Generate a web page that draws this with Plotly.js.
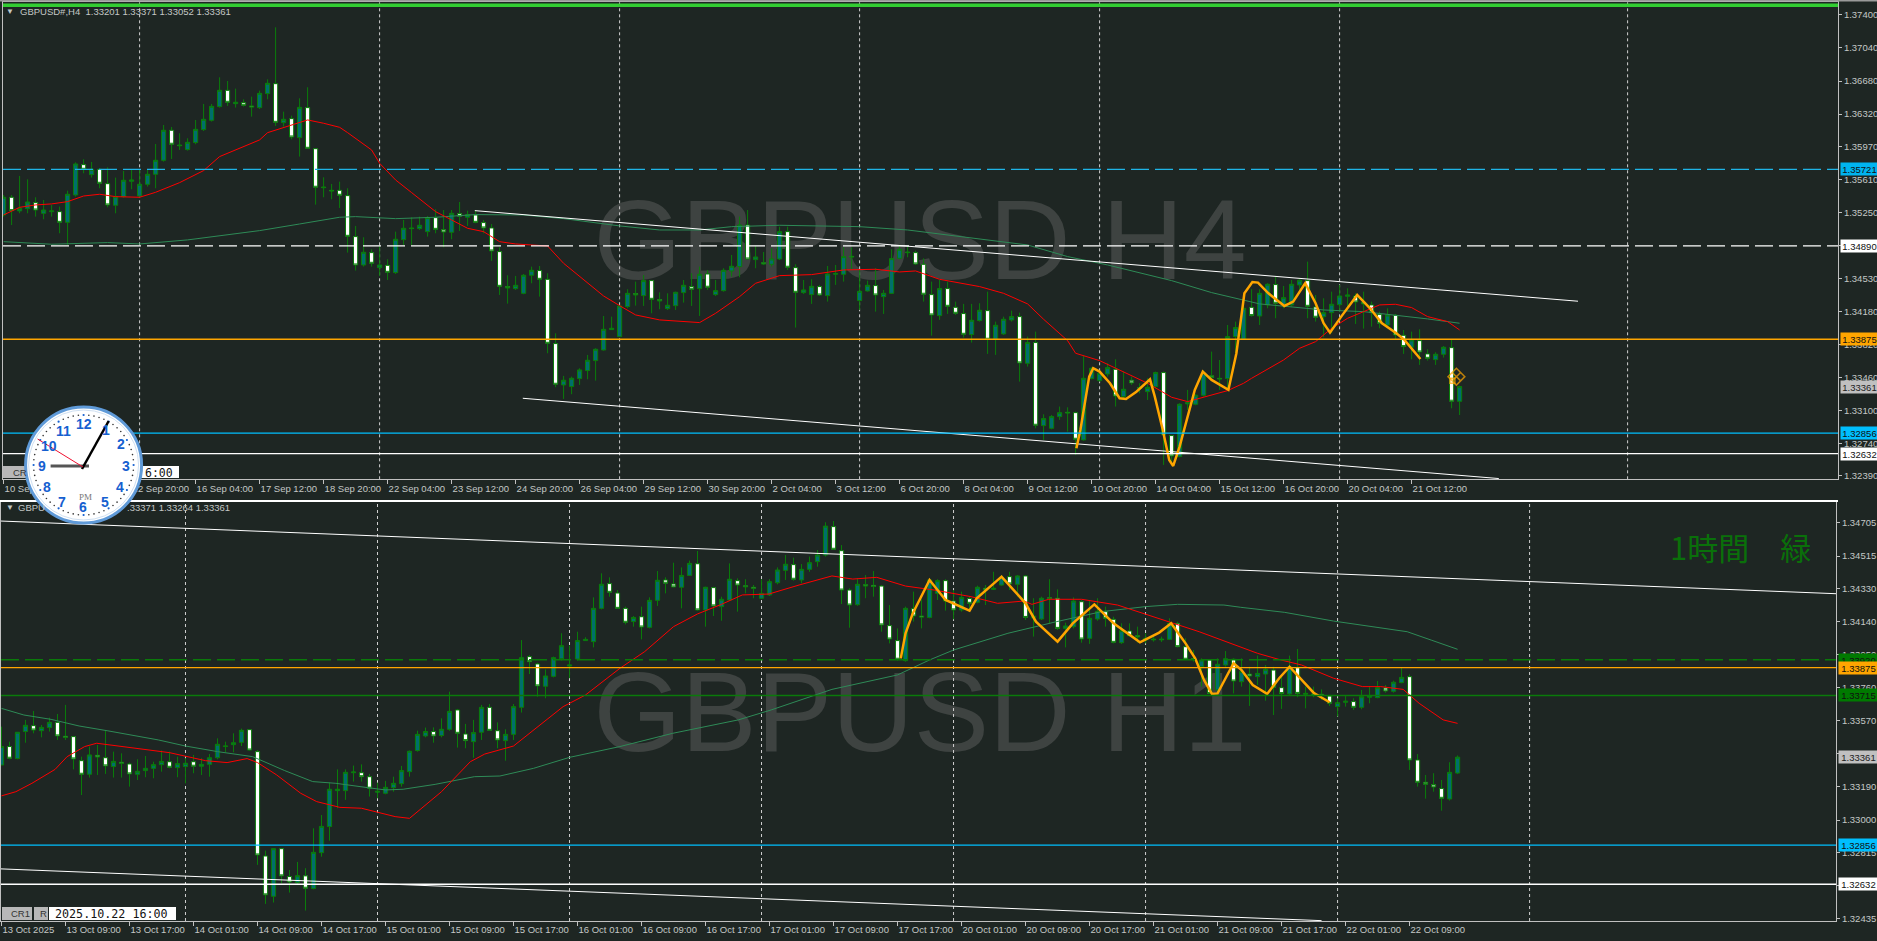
<!DOCTYPE html>
<html><head><meta charset="utf-8">
<script src="https://cdn.plot.ly/plotly-3.0.1.min.js"></script>
<style>html,body{margin:0;padding:0;background:#1e2623;overflow:hidden}</style>
</head><body><div id="chart" style="width:1877px;height:941px"></div>
<script>
// ---------- H4 panel prices, in points (1e-5) ----------
const h4Open=[135225,135417,135269,135294,135359,135243,135261,135261,135145,135442,
135772,135663,135721,135565,135330,135424,135591,135431,135558,135667,
135819,136145,135985,135935,136011,136152,136253,136402,136579,136434,
136445,136409,136391,136543,136651,136228,136271,136065,136391,135945,
135529,135493,135493,135435,134990,134682,134816,134653,134678,134599,
134957,135084,135077,135044,135196,135066,135037,135240,135200,135225,
135142,135084,134827,134447,134425,134374,134570,134621,134526,133828,
133379,133361,133448,133535,133643,133759,133980,133904,134230,134371,
134349,134512,134306,134208,134240,134382,134447,134425,134584,134360,
134403,134617,134664,135116,134740,134707,134689,134747,135044,134653,
134382,134360,134447,134349,134581,134581,134776,134295,134400,134458,
134338,134374,134754,134823,134816,134689,134360,134132,134425,134222,
134154,133926,134078,134186,133875,133933,134085,134121,133614,133839,
132937,132908,133035,133082,133078,132782,133448,133426,133498,133549,
133252,133430,133350,133306,133361,133513,132829,132601,133173,133169,
133267,133480,133451,133448,133904,133875,134222,134128,134248,134469,
134248,134248,134465,134512,134226,134121,134164,134251,134342,134345,
134277,134248,134146,134030,134135,133918,133788,133860,133716,133654,
133712,133784,133201];
const h4High=[135442,135442,135649,135612,135417,135388,135334,135316,135489,135797,
135830,135801,135732,135743,135631,135703,135714,135714,135721,135996,
136202,136181,136112,136058,136257,136431,136431,136720,136680,136597,
136481,136510,136575,136698,137263,136347,136304,136492,136612,135949,
135634,135562,135587,135515,135106,134983,134852,134888,134744,135044,
135171,135200,135207,135214,135287,135279,135279,135366,135272,135272,
135171,135127,134874,134570,134563,134584,134664,134671,134592,133940,
133477,133469,133560,133705,133777,134128,134121,134248,134418,134501,
134573,134519,134385,134374,134392,134519,134592,134664,134628,134519,
134646,134791,135207,135279,134888,134823,134863,135098,135098,134689,
134519,134526,134465,134671,134682,134874,134874,134635,134512,134646,
134411,134852,134899,134881,134838,134754,134501,134519,134501,134284,
134259,134259,134266,134392,134067,134121,134186,134164,133904,133958,
133060,133053,133144,133136,133089,133694,133571,133542,133614,133658,
133524,133469,133397,133451,133524,133524,132836,133180,133325,133278,
133535,133741,133650,134030,134067,134284,134418,134418,134483,134555,
134454,134519,134526,134718,134356,134320,134392,134465,134429,134374,
134392,134284,134175,134211,134150,133976,133958,133983,133766,133734,
133802,133868,133371];
const h4Low=[135207,135116,135243,135243,135207,135178,135207,135026,134899,135424,
135678,135631,135515,135308,135243,135413,135504,135417,135533,135515,
135804,135833,135931,135924,135993,136137,136239,136391,136409,136391,
136402,136293,136376,136481,136192,136184,136047,135859,135949,135337,
135417,135395,135301,134816,134621,134664,134664,134563,134519,134584,
134899,134899,135062,134990,135026,134874,134961,135051,135106,135135,
135026,134726,134356,134262,134411,134364,134483,134338,133723,133354,
133227,133278,133379,133440,133426,133752,133980,133904,134211,134240,
134237,134157,134201,134193,134193,134273,134237,134128,134411,134345,
134392,134555,134548,134744,134646,134682,134664,134736,134628,134002,
134367,134259,134345,134284,134465,134501,134628,134193,134392,134175,
134150,134367,134744,134765,134682,134284,133915,134085,134150,134139,
133893,133839,134067,133716,133705,133922,134067,133415,133578,132908,
132782,132897,132999,132872,132619,132774,133440,133415,133469,133144,
133234,133379,133288,133216,133343,132510,132510,132593,133107,133158,
133252,133448,133325,133325,133723,133868,134121,134030,134211,134103,
134211,134230,134411,134103,134067,133897,133940,134175,134230,134041,
133991,134012,133994,134020,133875,133716,133658,133596,133643,133596,
133676,133125,133052];
const h4Close=[135417,135272,135297,135366,135279,135279,135269,135145,135450,135779,
135721,135721,135569,135334,135424,135602,135605,135558,135667,135819,
136145,135993,135978,136014,136155,136264,136405,136579,136449,136449,
136416,136398,136546,136655,136231,136264,136072,136394,135949,135526,
135522,135486,135439,134993,134682,134820,134700,134682,134602,134961,
135080,135077,135113,135196,135069,135040,135243,135211,135229,135145,
135084,134834,134450,134432,134461,134570,134624,134526,133831,133386,
133430,133451,133542,133647,133766,133983,133994,134237,134374,134356,
134512,134309,134291,134244,134385,134461,134418,134581,134440,134403,
134624,134668,135116,134747,134769,134693,134747,135044,134657,134385,
134411,134450,134356,134584,134588,134773,134769,134396,134461,134356,
134374,134751,134852,134816,134693,134364,134139,134425,134233,134157,
133929,134081,134190,133875,134027,134092,134121,133618,133839,132941,
133013,133035,133078,133075,132789,133451,133560,133506,133567,133259,
133332,133401,133343,133353,133513,132836,132608,133169,133187,133267,
133506,133459,133444,133904,134002,134211,134132,134374,134472,134266,
134327,134472,134516,134233,134114,134164,134255,134345,134356,134280,
134259,134164,134049,134139,133922,133795,133868,133737,133668,133712,
133788,133202,133361];
// ---------- H1 panel prices ----------
const h1Open=[133316,133422,133353,133508,133542,133513,133531,133561,133481,133479,
133341,133263,133372,133358,133307,133332,133322,133263,133284,133297,
133318,133335,133301,133307,133335,133309,133320,133358,133422,133433,
133446,133519,133393,132794,132563,132836,132676,132641,132680,132607,
132813,132963,133169,133169,133272,133272,133249,133160,133154,133186,
133209,133278,133399,133483,133508,133485,133521,133632,133494,133450,
133504,133647,133513,133456,133492,133647,133938,133896,133768,133825,
133926,133884,133924,134030,134024,134215,134357,134303,134215,134139,
134167,134106,134261,134378,134355,134336,134404,134471,134206,134334,
134225,134263,134374,134345,134336,134273,134292,134362,134433,134466,
134378,134439,134483,134521,134684,134546,134320,134236,134351,134347,
134343,134116,134030,133915,134213,134171,134163,134301,134374,134257,
134206,134271,134250,134330,134324,134349,134397,134353,134401,134160,
134154,134276,134273,134100,134110,134253,134043,134154,134196,134152,
134018,134085,134058,134033,134039,134039,134037,134129,133995,133928,
133880,133919,133747,133890,133923,133794,133838,133823,133838,133861,
133760,133724,133875,133722,133724,133722,133712,133651,133676,133680,
133647,133705,133703,133758,133739,133789,133823,133345,133217,133204,
133181,133121,133270];
const h1High=[133536,133450,133504,133575,133626,133546,133588,133609,133661,133483,
133364,133422,133431,133513,133393,133383,133330,133349,133368,133335,
133399,133393,133364,133355,133374,133355,133379,133469,133450,133498,
133525,133521,133402,132825,132838,132838,132714,132760,132724,132953,
133029,133215,133291,133291,133313,133320,133265,133215,133225,133249,
133311,133399,133513,133531,133532,133584,133737,133638,133552,133575,
133661,133666,133561,133521,133666,134033,133947,133903,133865,133938,
134072,134001,134081,134049,134278,134416,134393,134320,134225,134171,
134225,134278,134429,134393,134477,134450,134489,134544,134339,134339,
134282,134473,134387,134382,134349,134382,134382,134450,134521,134506,
134469,134512,134550,134709,134716,134578,134330,134387,134406,134429,
134349,134234,134100,134225,134311,134267,134387,134382,134382,134320,
134311,134282,134345,134349,134425,134406,134425,134406,134406,134273,
134282,134382,134324,134133,134278,134263,134263,134273,134225,134167,
134129,134129,134110,134072,134062,134053,134158,134139,134043,133976,
133928,133923,133928,133970,133928,133928,133880,133944,133890,133880,
133823,133944,133982,133766,133766,133750,133718,133699,133718,133699,
133747,133766,133798,133775,133800,133875,133836,133379,133259,133269,
133230,133332,133371];
const h1Low=[133316,133349,133349,133444,133498,133475,133508,133460,133460,133291,
133144,133244,133259,133265,133244,133244,133192,133230,133246,133240,
133278,133297,133246,133211,133269,133259,133249,133349,133389,133389,
133425,133399,132743,132519,132527,132637,132584,132628,132481,132603,
132790,132882,133068,133116,133221,133221,133135,133125,133148,133163,
133192,133249,133393,133475,133444,133475,133513,133416,133412,133358,
133460,133513,133412,133341,133460,133617,133838,133708,133699,133819,
133915,133814,133915,134028,133991,134209,134282,134211,134123,134110,
134037,134100,134229,134301,134336,134215,134401,134202,134110,134171,
134144,134259,134196,134301,134273,134269,134286,134353,134378,134374,
134359,134425,134454,134512,134550,134240,134104,134230,134273,134282,
134081,134014,133915,133909,134139,134100,134158,134263,134202,134152,
134196,134202,134244,134234,134320,134345,134320,134282,134148,134053,
134148,134129,134091,133991,134100,134018,134011,134144,134110,134014,
134011,134053,134018,134014,134024,134022,134033,133991,133919,133909,
133766,133724,133724,133880,133727,133766,133655,133775,133685,133603,
133638,133718,133705,133641,133705,133689,133655,133594,133651,133632,
133636,133670,133699,133731,133731,133785,133288,133192,133123,133163,
133054,133112,133264];
const h1Close=[133422,133355,133504,133544,133517,133532,133561,133483,133475,133351,
133263,133374,133362,133311,133337,133326,133265,133280,133297,133318,
133337,133303,133324,133326,133309,133320,133358,133435,133425,133444,
133515,133402,132800,132571,132836,132680,132645,132681,132609,132815,
132964,133177,133177,133274,133276,133249,133183,133165,133188,133211,
133284,133395,133492,133508,133483,133521,133624,133498,133456,133502,
133647,133515,133460,133492,133651,133932,133909,133770,133827,133932,
134001,133890,134030,134037,134215,134353,134307,134215,134135,134163,
134108,134261,134376,134359,134338,134404,134473,134206,134336,134229,
134267,134382,134349,134339,134330,134301,134368,134435,134468,134382,
134439,134477,134521,134687,134554,134320,134234,134353,134343,134341,
134120,134039,133923,134215,134171,134165,134378,134374,134257,134206,
134278,134244,134336,134320,134330,134393,134355,134401,134163,134171,
134273,134271,134100,134114,134257,134039,134158,134198,134158,134020,
134087,134058,134051,134043,134035,134035,134129,133995,133923,133923,
133919,133727,133894,133926,133798,133852,133827,133842,133865,133762,
133726,133880,133727,133727,133718,133716,133670,133674,133682,133647,
133708,133714,133760,133741,133791,133819,133345,133217,133205,133190,
133125,133274,133361];
// ---------- indicator lines: bar index / price points ----------
const h4RedX=[0,2,4,6,8,10,12,14,17,19,22,25,27,29,32,33,36,38,40,42,43,46,47,49,51,54,56,58,60,62,64,68,70,73,75,77,79,82,87,89,92,94,97,101,105,109,112,114,117,122,125,128,130,133,134,137,140,143,146,148,153,155,156,158,160,162,164,166,168,170,172,174,176,178,180.5,182];
const h4RedY=[135225,135308,135334,135345,135370,135431,135450,135424,135417,135471,135576,135707,135859,135931,136040,136119,136202,136257,136221,136177,136119,135931,135786,135605,135468,135261,135171,135080,135044,134935,134910,134888,134700,134483,134345,134240,134139,134085,134056,134157,134338,134483,134566,134577,134628,134635,134606,134617,134526,134447,134374,134259,134092,133860,133723,133643,133524,133397,133245,133198,133317,133397,133451,133549,133650,133777,133849,133994,134103,134175,134248,134255,134219,134121,134067,133976];
const h4GreenX=[0,6,13,17,23,27,32,37,42,44,49,54,59,65,70,77,82,87,91,97,107,113,118,128,133,138,146,151,157,160.6,165,170,174,178,182];
const h4GreenY=[134935,134907,134925,134910,134954,134997,135055,135127,135200,135207,135185,135200,135229,135225,135185,135106,135062,135062,135098,135113,135098,135062,135008,134899,134773,134682,134512,134382,134259,134230,134193,134175,134139,134096,134049];
const h4ZigX=[134.1,134.6,135.7,136.2,137,138.3,139.5,140.3,141.6,143.3,143.9,144.9,145.7,146.2,147,147.7,148.9,149.9,151,153.1,154.1,155.1,156.1,156.8,158.1,160.1,161.2,162.7,164,165,165.8,167.2,169.2,170.8,172.3,174.1,175.1,177.1];
const h4ZigY=[132691,132890,133469,133560,133524,133397,133234,133227,133306,133440,133252,132890,132564,132499,132709,132926,133325,133524,133433,133325,133723,134374,134497,134490,134374,134237,134284,134483,134266,134049,133947,134121,134356,134211,134049,133940,133868,133661];
const h1RedX=[0,1.8,3.8,6.7,8.2,10.4,11.9,15.6,21,25.5,28.2,30.7,32,34.4,37.4,39.4,42.3,45,49.2,51,53,55,58.6,60.4,64,67,70.2,73,77.3,80.4,84,87,90,92.6,95.9,99.7,103.8,106.4,109.4,113,116.6,121.2,124.5,127.8,128.8,130.9,135,139.5,143,146.2,149.7,157,159.9,162.5,166.5,170.1,172.4,175.2,177.2,180.2,182];
const h1RedY=[133139,133163,133211,133291,133364,133422,133441,133420,133387,133341,133330,133353,133330,133259,133154,133106,133073,133068,133020,133010,133087,133163,133335,133379,133425,133536,133651,133718,133871,133967,134110,134183,134238,134292,134297,134349,134401,134383,134393,134343,134320,134282,134244,134257,134238,134267,134267,134234,134183,134133,134081,133957,133919,133890,133814,133766,133766,133750,133670,133575,133555];
const h1GreenX=[0,2.8,6.2,9.7,13.2,19.6,23,27,31.4,35.4,38.9,41.8,45.8,48,50.2,54.2,59.1,62.3,66.5,71,77.3,83.9,92.1,96.2,103.8,112,116,119,125.8,131.9,137.5,143,147,152.8,154.9,160.4,166.5,171.6,175.7,178.7,182];
const h1GreenY=[133641,133603,133578,133540,133513,133460,133425,133393,133364,133284,133221,133211,133186,133173,133177,133205,133249,133253,133297,133360,133422,133498,133575,133632,133750,133833,133919,133976,134072,134139,134196,134225,134238,134234,134221,134192,134142,134110,134081,134033,133980];
const h1ZigX=[112.4,113,113.9,116,118,121,121.9,125,128,129.3,132,133.9,136.6,139,142.3,143.6,144.7,146.2,148,149.2,150.3,151.3,152,153,154,155,156.4,158.2,159.7,161,162.5,164,166];
const h1ZigY=[133928,134072,134186,134378,134263,134202,134273,134397,134244,134139,134024,134129,134238,134129,134020,134053,134076,134129,134014,133928,133804,133724,133727,133814,133900,133861,133775,133724,133814,133880,133804,133731,133676];
// ---------- trend lines ----------
const h4TrendUpX=[58.9,196.8], h4TrendUpY=[135272,134288];
const h4TrendLowX=[64.9,186.9], h4TrendLowY=[133234,132362];
const h1TrendUpX=[-0.06,229.3], h1TrendUpY=[134716,134299];
const h1TrendLowX=[-0.06,165], h1TrendLowY=[132720,132423];
// ---------- axes ----------
const h4Ticks=["1.37400","1.37040","1.36680","1.36320","1.35970","1.35610","1.35250","1.34890","1.34530","1.34180","1.33820","1.33460","1.33100","1.32740","1.32390"];
const h1Ticks=["1.34705","1.34515","1.34330","1.34140","1.33950","1.33760","1.33570","1.33380","1.33190","1.33000","1.32815","1.32625","1.32435"];
const h4Dates=["10 Sep 2025","11 Sep 12:00","12 Sep 20:00","16 Sep 04:00","17 Sep 12:00","18 Sep 20:00","22 Sep 04:00","23 Sep 12:00","24 Sep 20:00","26 Sep 04:00","29 Sep 12:00","30 Sep 20:00","2 Oct 04:00","3 Oct 12:00","6 Oct 20:00","8 Oct 04:00","9 Oct 12:00","10 Oct 20:00","14 Oct 04:00","15 Oct 12:00","16 Oct 20:00","20 Oct 04:00","21 Oct 12:00"];
const h1Dates=["13 Oct 2025","13 Oct 09:00","13 Oct 17:00","14 Oct 01:00","14 Oct 09:00","14 Oct 17:00","15 Oct 01:00","15 Oct 09:00","15 Oct 17:00","16 Oct 01:00","16 Oct 09:00","16 Oct 17:00","17 Oct 01:00","17 Oct 09:00","17 Oct 17:00","20 Oct 01:00","20 Oct 09:00","20 Oct 17:00","21 Oct 01:00","21 Oct 09:00","21 Oct 17:00","22 Oct 01:00","22 Oct 09:00"];
const h4Separators=[17,47,77,107,137,167,203];
const h1Separators=[23,47,71,95,119,143,167,191];
// level price, colour, dash, tag background
const h4Levels=[[1.35721,"#1fb4e6","dash","#00b4f0"],[1.34890,"#ffffff","dash","#ffffff"],[1.33875,"#ffa500","solid","#ffa500"],[1.32856,"#00bfff","solid","#00bfff"],[1.32632,"#ffffff","solid","#ffffff"]];
const h1Levels=[[1.33920,"#0a7a0a","dash","#007a00"],[1.33875,"#ffa500","solid","#ffa500"],[1.33715,"#0a7a0a","solid","#007a00"],[1.32856,"#00bfff","solid","#00bfff"],[1.32632,"#ffffff","solid","#ffffff"]];
const lastPrice=1.33361;

const W=1877,H=941,BG="#1e2623",TXT="#c4c8c6",FONT="Liberation Sans",FS=9.5;
const X=x=>x/W, Y=y=>1-y/H, p=a=>a.map(v=>v/1e5);
const idx=a=>a.map((_,i)=>i);
const candle=(o,h,l,c,xa,ya)=>({type:"candlestick",x:idx(o),open:p(o),high:p(h),low:p(l),close:p(c),xaxis:xa,yaxis:ya,
  increasing:{line:{color:"#0a7d0a",width:1},fillcolor:"#006f6c"},decreasing:{line:{color:"#0a7d0a",width:1},fillcolor:"#ffffff"},whiskerwidth:0,hoverinfo:"skip",showlegend:false});
const line=(x,y,color,width,xa,ya)=>({type:"scatter",mode:"lines",x:x,y:p(y),line:{color:color,width:width},xaxis:xa,yaxis:ya,hoverinfo:"skip",showlegend:false});
const data=[
 candle(h4Open,h4High,h4Low,h4Close,"x","y"),
 line(h4GreenX,h4GreenY,"#2e8b57",1,"x","y"),
 line(h4RedX,h4RedY,"#ff0000",1,"x","y"),
 line(h4TrendUpX,h4TrendUpY,"#ffffff",1,"x","y"),
 line(h4TrendLowX,h4TrendLowY,"#ffffff",1,"x","y"),
 line(h4ZigX,h4ZigY,"#ffa500",2.5,"x","y"),
 {type:"scatter",mode:"markers",x:[181.6,181.1],y:[1.33469,1.33425],xaxis:"x",yaxis:"y",hoverinfo:"skip",showlegend:false,
  marker:{symbol:["diamond-x-open","square-open"],size:[13,5],color:"#ffa500",line:{color:"#ffa500",width:1.5}}},
 candle(h1Open,h1High,h1Low,h1Close,"x2","y2"),
 line(h1GreenX,h1GreenY,"#2e8b57",1,"x2","y2"),
 line(h1RedX,h1RedY,"#ff0000",1,"x2","y2"),
 line(h1TrendUpX,h1TrendUpY,"#ffffff",1,"x2","y2"),
 line(h1TrendLowX,h1TrendLowY,"#ffffff",1,"x2","y2"),
 line(h1ZigX,h1ZigY,"#ffa500",2.5,"x2","y2")
];
const shapes=[],ann=[];
// watermarks behind the candles
[["GBPUSD H4",187,271],["GBPUSD H1",660,742]].forEach(w=>shapes.push({type:"rect",layer:"below",xref:"paper",yref:"paper",x0:X(595),x1:X(1245),y0:Y(w[2]),y1:Y(w[1]),line:{width:0},fillcolor:"rgba(0,0,0,0)",
  label:{text:w[0],textposition:"middle center",font:{family:FONT,size:113,color:"#3e4341"}}}));
// separators
h4Separators.forEach(s=>shapes.push({type:"line",layer:"below",xref:"x",yref:"y domain",x0:s,x1:s,y0:0,y1:1,line:{color:"#d0d0d0",width:1,dash:"3px,3px"}}));
h1Separators.forEach(s=>shapes.push({type:"line",layer:"below",xref:"x2",yref:"y2 domain",x0:s,x1:s,y0:0,y1:1,line:{color:"#d0d0d0",width:1,dash:"3px,3px"}}));
// levels with price tags
const tag=(price,bg,fg,yr,x)=>ann.push({xref:"paper",yref:yr,x:X(x),y:price,xanchor:"left",yanchor:"middle",text:price.toFixed(5),showarrow:false,bgcolor:bg,width:1877-x,height:12,borderpad:0,align:"center",font:{family:FONT,size:FS,color:fg}});
h4Levels.forEach(l=>{shapes.push({type:"line",xref:"x domain",yref:"y",x0:0,x1:1,y0:l[0],y1:l[0],line:{color:l[1],width:1.3,dash:l[2]==="dash"?"18px,6px":"solid"}});
  tag(l[0],l[3],"#101010","y",1840);});
tag(lastPrice,"#c0c0c0","#202020","y",1840);
h1Levels.forEach(l=>{shapes.push({type:"line",xref:"x2 domain",yref:"y2",x0:0,x1:1,y0:l[0],y1:l[0],line:{color:l[1],width:1.3,dash:l[2]==="dash"?"18px,6px":"solid"}});
  tag(l[0],l[3],"#101010","y2",1838);});
tag(lastPrice,"#c0c0c0","#202020","y2",1838);
// frame parts
const box=(x0,y0,x1,y1,fill,lc)=>shapes.push({type:"rect",xref:"paper",yref:"paper",x0:X(x0),x1:X(x1),y0:Y(y1),y1:Y(y0),fillcolor:fill,line:{color:lc||fill,width:lc?1:0}});
box(0,0,1877,1.5,"#9a9a9a");
box(3,3.5,1838,7,"#32cd32");
box(0,500,1838,502,"#ffffff");
// upper date box, behind the clock
box(3,466,40,478,"#b8b8b8");box(40,466,179,478,"#ffffff");
// lower date box
box(2,907,32,920,"#b8b8b8");box(34,907,48,920,"#b8b8b8");box(49,907,176,920,"#ffffff");
const label=(x,y,t,size,color,anchor,family,weight)=>ann.push({xref:"paper",yref:"paper",x:X(x),y:Y(y),xanchor:anchor||"left",yanchor:"middle",text:t,showarrow:false,font:{family:family||FONT,size:size,color:color,weight:weight||400}});
label(18,11.5,"GBPUSD#,H4\u00a0\u00a01.33201 1.33371 1.33052 1.33361",FS,TXT);
label(4,11.5,"▼",8,TXT);
label(4,507.5,"▼",8,TXT);
label(16,507.5,"GBPU",FS,TXT);
label(124.5,507.5,".33371 1.33264 1.33361",FS,TXT);
label(1668,546,"1時間　緑",31,"#0a700a","left","Noto Sans CJK JP");
label(11,472.5,"CR",FS,"#333");
label(143,472.5,"6:00",11.5,"#111","left","DejaVu Sans Mono");
label(9,913.5,"CR1",FS,"#333");
label(38,913.5,"R",FS,"#333");
label(53,913.5,"2025.10.22 16:00",11.7,"#111","left","DejaVu Sans Mono");
// desk clock widget
const cx=83.6,cy=465,R=58;
const circ=(r,fill,lc,lw)=>shapes.push({type:"circle",xref:"paper",yref:"paper",x0:X(cx-r),x1:X(cx+r),y0:Y(cy+r),y1:Y(cy-r),fillcolor:fill,line:{color:lc,width:lw}});
circ(58,"#ffffff","#5f9ad8",3);
circ(55,"#ffffff","#cfe0f2",1);
for(let m=0;m<60;m++){const a=m*Math.PI/30,r=50,s=m%5?0.8:1.1,px=cx+r*Math.sin(a),py=cy-r*Math.cos(a);
  shapes.push({type:"circle",xref:"paper",yref:"paper",x0:X(px-s),x1:X(px+s),y0:Y(py+s),y1:Y(py-s),fillcolor:m%5?"#333":"#1560d0",line:{width:0}});}
const hand=(x0,y0,x1,y1,c,w)=>shapes.push({type:"line",xref:"paper",yref:"paper",x0:X(x0),x1:X(x1),y0:Y(y0),y1:Y(y1),line:{color:c,width:w}});
[[84,424,"12"],[106,430,"1"],[120.6,444,"2"],[126.5,466,"3"],[120,487,"4"],[105,502,"5"],[83,507,"6"],[62.5,502,"7"],[46.7,487,"8"],[41.5,466,"9"],[48.6,446,"10"],[63,431,"11"]].forEach(d=>label(d[0],d[1],d[2],14,"#1560d0","center",FONT,700));
label(85,497,"PM",9,"#777","center","Liberation Serif");
hand(50.6,466,89,466,"#555",3);
hand(82,469,108.7,421,"#000",2.5);
hand(37.6,439,83,467,"#f01030",1);
const xa=(dom,dates,range,anchor)=>({domain:dom,range:range,anchor:anchor,type:"linear",tickmode:"array",tickvals:dates.map((_,i)=>i*8),ticktext:dates,tickangle:0,ticks:"outside",ticklen:4,tickcolor:"#c0c0c0",ticklabelposition:"outside right",tickfont:{family:FONT,size:FS,color:TXT},showgrid:false,zeroline:false,showline:true,linecolor:"#c0c0c0",mirror:true,rangeslider:{visible:false},fixedrange:true});
const ya=(dom,ticks,range,anchor)=>({domain:dom,range:range,anchor:anchor,side:"right",tickmode:"array",tickvals:ticks.map(Number),ticktext:ticks,ticks:"outside",ticklen:3,tickcolor:"#c0c0c0",tickfont:{family:FONT,size:FS,color:TXT},showgrid:false,zeroline:false,showline:true,linecolor:"#c0c0c0",mirror:true,fixedrange:true});
const layout={width:W,height:H,margin:{l:0,r:0,t:0,b:0,pad:0},paper_bgcolor:BG,plot_bgcolor:BG,showlegend:false,boxgap:0.25,hovermode:false,
 xaxis:xa([X(3),X(1838)],h4Dates,[-0.075,229.3],"y"),
 yaxis:ya([Y(479.3),Y(2)],h4Ticks,[1.32354,1.37538],"x"),
 xaxis2:xa([X(1),X(1836)],h1Dates,[-0.06,229.3],"y2"),
 yaxis2:ya([Y(921),Y(501)],h1Ticks,[1.32421,1.34831],"x2"),
 shapes:shapes,annotations:ann};
Plotly.newPlot("chart",data,layout,{displayModeBar:false,staticPlot:true});
</script></body></html>
